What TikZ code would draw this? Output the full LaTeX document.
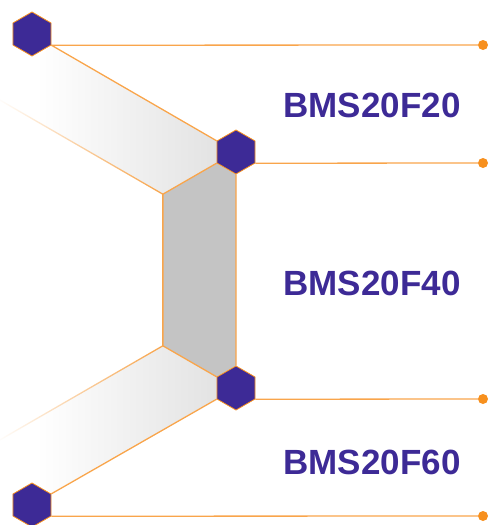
\documentclass[tikz,border=0pt]{standalone}
\usepackage{fontspec}
\setmainfont{Liberation Sans}
\usetikzlibrary{shapes.geometric,calc,fadings,backgrounds}
\definecolor{hexpurple}{HTML}{3D2A96}
\definecolor{lineorange}{HTML}{F9A54B}
\definecolor{dotorange}{HTML}{F7901E}
\definecolor{bandgrey}{HTML}{C4C4C4}
\pgfdeclarehorizontalshading{bandshade}{100bp}{color(0bp)=(white); color(34bp)=(white); color(75bp)=(black!11); color(100bp)=(black!11)}
\begin{document}
\begin{tikzpicture}[x=1pt,y=1pt,line join=round,line cap=round,
	hexa/.style={regular polygon,regular polygon sides=6,shape border rotate=30,minimum size=44pt,inner sep=0pt,fill=hexpurple,draw=dotorange,line width=.8pt},
	dot/.style={circle,fill=dotorange,minimum size=10pt,inner sep=0pt},
	rail/.style={lineorange,line width=1.3pt},
	lab/.style={font=\fontsize{35}{40}\selectfont\bfseries,text=hexpurple}]
	\useasboundingbox (0,0) rectangle (488,-525);
	\node[hexa] (h1) at (32,-34) {};
	\node[hexa] (h2) at (236,-152) {};
	\node[hexa] (h3) at (236,-388) {};
	\node[hexa] (h4) at (32,-505) {};
	\node[dot] (d1) at (483,-45) {};
	\node[dot] (d2) at (483,-163) {};
	\node[dot] (d3) at (483,-399) {};
	\node[dot] (d4) at (483,-516) {};
	\node[lab] (l1) at (372,-105) {BMS20F20};
	\node[lab] (l2) at (372,-283) {BMS20F40};
	\node[lab] (l3) at (372,-462) {BMS20F60};
	\begin{scope}[on background layer]
	\coordinate (g1) at ($(h2.210)+(210:62pt)$);
	\coordinate (g2) at ($(h3.150)+(150:62pt)$);
	\coordinate (c1) at ($(g1)+(150:192pt)$);
	\coordinate (c2) at ($(g2)+(210:192pt)$);
	\shade[shading=bandshade] (h1.-30)--(h2.150)--(h2.210)--(g1)--(c1)--cycle;
	\shade[shading=bandshade] (h4.30)--(h3.210)--(h3.150)--(g2)--(c2)--cycle;
	\fill[bandgrey] (h2.210)--(g1)--(g2)--(h3.150)--(h3.90)--(h2.-90)--cycle;
	\draw[rail] (h1.-30)--(h2.150) (h2.210)--(g1)--(g2)--(h3.150) (h3.210)--(h4.30) (h2.-90)--(h3.90);
	\draw[rail,path fading=west] (g1)--(c1);
	\draw[rail,path fading=west] (g2)--(c2);
	\draw[rail] (h1.-30)--(d1) (h2.-30)--(d2) (h3.-30)--(d3) (h4.-30)--(d4);
	\end{scope}
\end{tikzpicture}
\end{document}
